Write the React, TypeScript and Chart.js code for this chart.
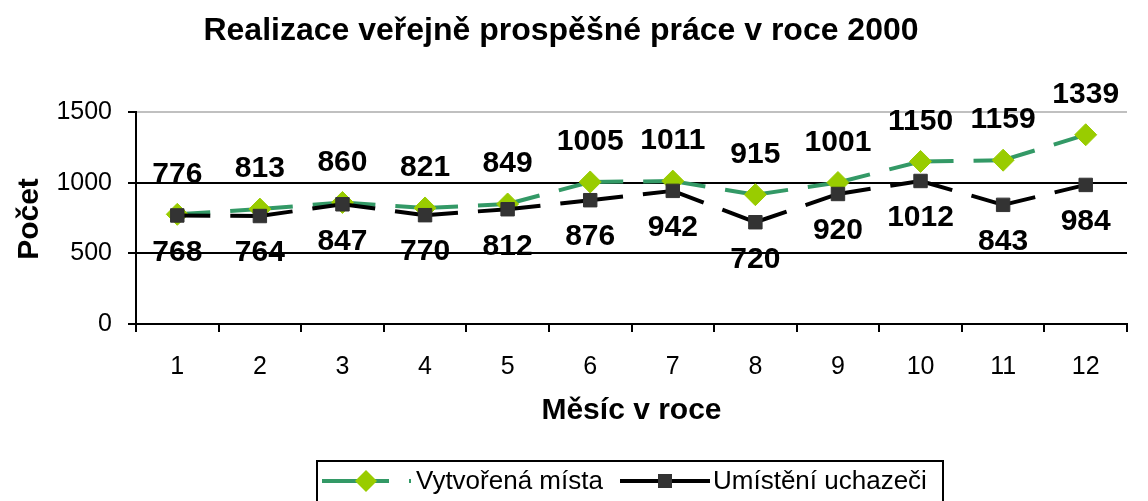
import React, { useEffect, useRef } from 'react';
import { Chart, registerables } from 'chart.js';

Chart.register(...registerables);

const months = ['1', '2', '3', '4', '5', '6', '7', '8', '9', '10', '11', '12'];
const vytvorenaMista = [776, 813, 860, 821, 849, 1005, 1011, 915, 1001, 1150, 1159, 1339];
const umisteniUchazeci = [768, 764, 847, 770, 812, 876, 942, 720, 920, 1012, 843, 984];
const yTickValues = [0, 500, 1000, 1500];
const seriesNames = ['Vytvořená místa', 'Umístění uchazeči'];
const chartTitle = 'Realizace veřejně prospěšné práce v roce 2000';
const xTitle = 'Měsíc v roce';
const yTitle = 'Počet';

const FONT = '"Liberation Sans", Arial, Helvetica, sans-serif';
const GREEN_LINE = '#339966';
const GREEN_MARK = '#99CC00';
const BLACK_LINE = '#000000';
const BLACK_MARK = '#333333';
const W = 1148;
const H = 501;

const overlay = {
  id: 'overlay',
  afterDatasetsDraw(chart: any) {
    const ctx = chart.ctx;
    ctx.save();
    ctx.fillStyle = '#000';
    ctx.textAlign = 'center';
    ctx.textBaseline = 'middle';
    ctx.font = `bold 30px ${FONT}`;
    chart.data.datasets.forEach((ds: any, i: number) => {
      const meta = chart.getDatasetMeta(i);
      const dy = i === 0 ? -40 : 37;
      meta.data.forEach((pt: any, j: number) => {
        ctx.fillText(String(ds.data[j]), pt.x, pt.y + dy);
      });
    });
    ctx.restore();
  },
  afterDraw(chart: any) {
    const ctx = chart.ctx;
    const area = chart.chartArea;
    ctx.save();
    ctx.fillStyle = '#000';
    ctx.textAlign = 'center';
    ctx.textBaseline = 'middle';
    // title
    ctx.font = `bold 32px ${FONT}`;
    ctx.fillText(chartTitle, 561, 31);
    // axis titles
    ctx.font = `bold 30px ${FONT}`;
    ctx.fillText(xTitle, (area.left + area.right) / 2, 411);
    ctx.save();
    ctx.translate(30, 219);
    ctx.rotate(-Math.PI / 2);
    ctx.fillText(yTitle, 0, 0);
    ctx.restore();

    // legend
    const ly = 481;
    ctx.lineWidth = 2;
    ctx.strokeStyle = '#000';
    ctx.strokeRect(317, 461, 626, 60);

    ctx.lineWidth = 4;
    ctx.strokeStyle = GREEN_LINE;
    ctx.setLineDash([67, 20]);
    ctx.beginPath();
    ctx.moveTo(322, ly);
    ctx.lineTo(411, ly);
    ctx.stroke();
    ctx.setLineDash([]);
    ctx.fillStyle = GREEN_MARK;
    ctx.beginPath();
    ctx.moveTo(366 - 11, ly);
    ctx.lineTo(366, ly - 11);
    ctx.lineTo(366 + 11, ly);
    ctx.lineTo(366, ly + 11);
    ctx.closePath();
    ctx.fill();

    ctx.strokeStyle = BLACK_LINE;
    ctx.beginPath();
    ctx.moveTo(620, ly);
    ctx.lineTo(710, ly);
    ctx.stroke();
    ctx.fillStyle = BLACK_MARK;
    ctx.fillRect(658, ly - 7, 14, 14);

    ctx.fillStyle = '#000';
    ctx.textAlign = 'left';
    ctx.font = `26px ${FONT}`;
    ctx.fillText(seriesNames[0], 416, ly + 1);
    ctx.fillText(seriesNames[1], 713, ly + 1);
    ctx.restore();
  },
};

const restartDash = (ctx: any) => (ctx.p0DataIndex % 2 ? 0.001 : 0);

export default function App() {
  const canvasRef = useRef<HTMLCanvasElement | null>(null);

  useEffect(() => {
    document.body.style.margin = '0';
    const canvas = canvasRef.current;
    if (!canvas) return;
    const chart = new Chart(canvas, {
      type: 'line',
      data: {
        labels: months,
        datasets: [
          {
            label: seriesNames[0],
            data: vytvorenaMista,
            order: 1,
            borderColor: GREEN_LINE,
            borderWidth: 4,
            borderDash: [33, 20],
            segment: { borderDashOffset: restartDash },
            pointStyle: 'rectRot',
            pointRadius: 11,
            pointBackgroundColor: GREEN_MARK,
            pointBorderColor: GREEN_MARK,
            pointBorderWidth: 1,
            fill: false,
            tension: 0,
          },
          {
            label: seriesNames[1],
            data: umisteniUchazeci,
            order: 0,
            borderColor: BLACK_LINE,
            borderWidth: 4,
            borderDash: [33, 20],
            segment: { borderDashOffset: restartDash },
            pointStyle: 'rect',
            pointRadius: 9.5,
            pointBackgroundColor: BLACK_MARK,
            pointBorderColor: BLACK_MARK,
            pointBorderWidth: 1,
            fill: false,
            tension: 0,
          },
        ],
      },
      options: {
        animation: false,
        responsive: false,
        maintainAspectRatio: false,
        layout: { padding: { top: 112, right: 21, bottom: 77, left: 0 } },
        plugins: {
          legend: { display: false },
          title: { display: false },
          tooltip: { enabled: false },
        },
        scales: {
          x: {
            type: 'category',
            offset: true,
            afterFit: (s: any) => {
              s.height = 100;
            },
            grid: {
              offset: true,
              drawOnChartArea: false,
              drawTicks: true,
              tickLength: 8,
              color: '#000',
              lineWidth: 2,
            },
            border: { display: true, color: '#000', width: 2 },
            ticks: {
              color: '#000',
              font: { family: FONT, size: 25 },
              padding: 20,
              maxRotation: 0,
            },
          },
          y: {
            min: 0,
            max: 1500,
            afterBuildTicks: (s: any) => {
              s.ticks = yTickValues.map((v) => ({ value: v }));
            },
            afterFit: (s: any) => {
              s.width = 136;
            },
            grid: {
              color: (c: any) => (c.tick && c.tick.value === 1500 ? '#c0c0c0' : '#000'),
              lineWidth: 2,
              tickLength: 8,
              tickColor: '#000',
            },
            border: { display: true, color: '#000', width: 2 },
            ticks: {
              color: '#000',
              font: { family: FONT, size: 25 },
              padding: 16,
              callback: (v: any) => String(v),
            },
          },
        },
      },
      plugins: [overlay],
    });
    return () => chart.destroy();
  }, []);

  return (
    <div style={{ width: W, height: H, background: '#fff' }}>
      <canvas ref={canvasRef} width={W} height={H} style={{ display: 'block', width: W, height: H }} />
    </div>
  );
}
